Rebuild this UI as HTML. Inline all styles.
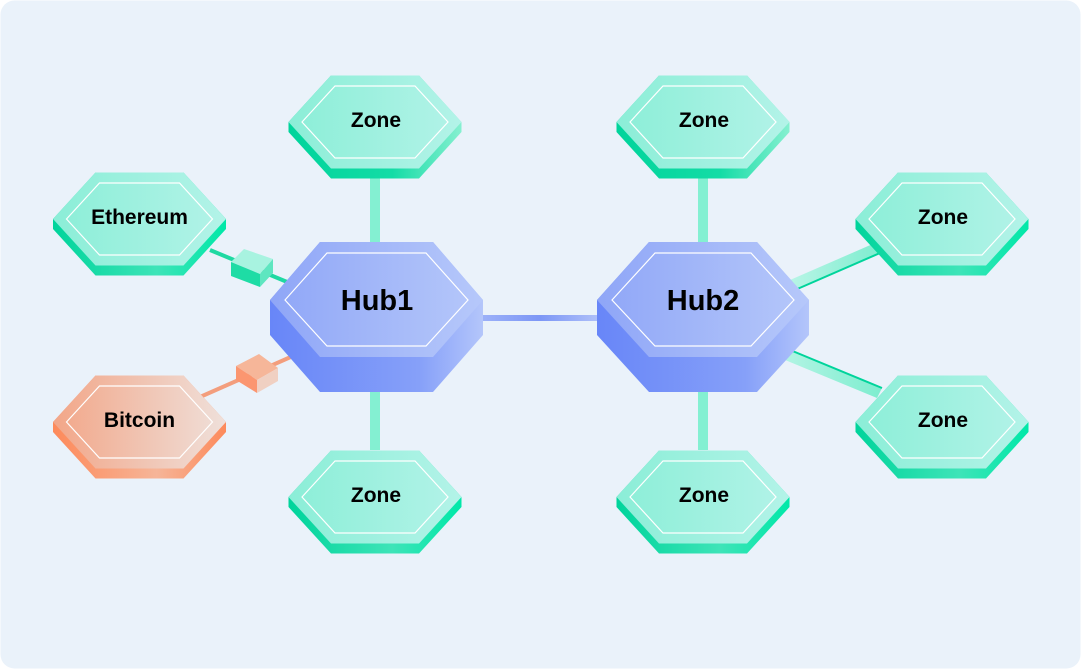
<!DOCTYPE html>
<html><head><meta charset="utf-8"><style>
html,body{margin:0;padding:0;background:#fff;}
svg{display:block;}
text{font-family:"Liberation Sans",sans-serif;font-weight:bold;fill:#000;text-anchor:middle;}
</style></head><body>
<svg width="1081" height="669" viewBox="0 0 1081 669" xmlns="http://www.w3.org/2000/svg">
<defs>
<linearGradient id="zt" x1="0" x2="1"><stop offset="0" stop-color="#8beed7"/><stop offset="1" stop-color="#b3f3e8"/></linearGradient>
<linearGradient id="zs" x1="0" x2="1"><stop offset="0" stop-color="#00d49b"/><stop offset="0.6" stop-color="#14dca6"/><stop offset="1" stop-color="#86f0d0"/></linearGradient>
<linearGradient id="zs2" x1="0" x2="1"><stop offset="0" stop-color="#00d49b"/><stop offset="0.6" stop-color="#3ee4b8"/><stop offset="1" stop-color="#00e8a8"/></linearGradient>
<linearGradient id="ht" x1="0" x2="1"><stop offset="0" stop-color="#8fa6f7"/><stop offset="1" stop-color="#b6c8fa"/></linearGradient>
<linearGradient id="hs" x1="0" x2="1"><stop offset="0" stop-color="#6886f8"/><stop offset="0.7" stop-color="#86a0f9"/><stop offset="1" stop-color="#b4c6fa"/></linearGradient>
<linearGradient id="bt" x1="0" x2="1"><stop offset="0" stop-color="#f2a688"/><stop offset="1" stop-color="#efe0da"/></linearGradient>
<linearGradient id="bs" x1="0" x2="1"><stop offset="0" stop-color="#fd8a5b"/><stop offset="0.6" stop-color="#f6b598"/><stop offset="1" stop-color="#fd8a5b"/></linearGradient>
<linearGradient id="hl" x1="0" x2="1"><stop offset="0" stop-color="#9db2f8"/><stop offset="0.5" stop-color="#7d97f6"/><stop offset="1" stop-color="#b0c1f9"/></linearGradient>
<linearGradient id="gl" x1="0" x2="1"><stop offset="0" stop-color="#b8f5e6"/><stop offset="1" stop-color="#7eedcf"/></linearGradient>
</defs>
<rect x="0.5" y="0.5" width="1080" height="668" rx="14" fill="#eaf2fa"/>

<rect x="370" y="175" width="10" height="70" fill="#84f0d2"/>
<rect x="370" y="375" width="10" height="75" fill="#84f0d2"/>
<rect x="698" y="175" width="10" height="70" fill="#84f0d2"/>
<rect x="698" y="375" width="10" height="75" fill="#84f0d2"/>
<rect x="480" y="315" width="120" height="6" fill="url(#hl)"/>
<line x1="210" y1="250" x2="292" y2="284" stroke="#1fd9a2" stroke-width="4"/>
<line x1="200" y1="397" x2="302" y2="352" stroke="#f59068" stroke-width="4" opacity="0.85"/>
<polygon points="790,280 875,243 880,253 795,290" fill="url(#gl)"/>
<line x1="795" y1="290" x2="880" y2="253" stroke="#00d49b" stroke-width="2"/>
<polygon points="778,345 882,388 877,398 773,355" fill="url(#gl)"/>
<line x1="778" y1="345" x2="882" y2="388" stroke="#00d49b" stroke-width="2"/>

<polygon points="231,262 244,249 273,259 260,274" fill="#a8f3e0"/>
<polygon points="231,262 260,274 260,287 231,276" fill="#1edca5"/>
<polygon points="260,274 273,259 273,273 260,287" fill="#5ee6c0"/>
<polygon points="236,366 259,354 278,368 257,380" fill="#f6b699"/>
<polygon points="236,366 257,380 257,393 236,380" fill="#fb9670"/>
<polygon points="257,380 278,368 278,381 257,393" fill="#f0d0c2"/>

<polygon points="288.5,122 331,75.5 419,75.5 461.5,122 461.5,132 419,178.5 331,178.5 288.5,132" fill="url(#zs)"/>
<polygon points="288.5,122 331,75.5 419,75.5 461.5,122 419,168.5 331,168.5" fill="url(#zt)"/>
<polygon points="302,122 335,86 415,86 448,122 415,158 335,158" fill="none" stroke="#fff" stroke-width="1.2"/>
<text x="376" y="127" font-size="21">Zone</text>

<polygon points="616.5,122 659,75.5 747,75.5 789.5,122 789.5,132 747,178.5 659,178.5 616.5,132" fill="url(#zs)"/>
<polygon points="616.5,122 659,75.5 747,75.5 789.5,122 747,168.5 659,168.5" fill="url(#zt)"/>
<polygon points="630,122 663,86 743,86 776,122 743,158 663,158" fill="none" stroke="#fff" stroke-width="1.2"/>
<text x="704" y="127" font-size="21">Zone</text>

<polygon points="288.5,497 331,450.5 419,450.5 461.5,497 461.5,507 419,553.5 331,553.5 288.5,507" fill="url(#zs2)"/>
<polygon points="288.5,497 331,450.5 419,450.5 461.5,497 419,543.5 331,543.5" fill="url(#zt)"/>
<polygon points="302,497 335,461 415,461 448,497 415,533 335,533" fill="none" stroke="#fff" stroke-width="1.2"/>
<text x="376" y="502" font-size="21">Zone</text>

<polygon points="616.5,497 659,450.5 747,450.5 789.5,497 789.5,507 747,553.5 659,553.5 616.5,507" fill="url(#zs2)"/>
<polygon points="616.5,497 659,450.5 747,450.5 789.5,497 747,543.5 659,543.5" fill="url(#zt)"/>
<polygon points="630,497 663,461 743,461 776,497 743,533 663,533" fill="none" stroke="#fff" stroke-width="1.2"/>
<text x="704" y="502" font-size="21">Zone</text>

<polygon points="53,219 95.5,172.5 183.5,172.5 226,219 226,229 183.5,275.5 95.5,275.5 53,229" fill="url(#zs2)"/>
<polygon points="53,219 95.5,172.5 183.5,172.5 226,219 183.5,265.5 95.5,265.5" fill="url(#zt)"/>
<polygon points="66.5,219 99.5,183 179.5,183 212.5,219 179.5,255 99.5,255" fill="none" stroke="#fff" stroke-width="1.2"/>
<text x="139.5" y="224" font-size="21">Ethereum</text>

<polygon points="53,422 95.5,375.5 183.5,375.5 226,422 226,432 183.5,478.5 95.5,478.5 53,432" fill="url(#bs)"/>
<polygon points="53,422 95.5,375.5 183.5,375.5 226,422 183.5,468.5 95.5,468.5" fill="url(#bt)"/>
<polygon points="66.5,422 99.5,386 179.5,386 212.5,422 179.5,458 99.5,458" fill="none" stroke="#fff" stroke-width="1.2"/>
<text x="139.5" y="427" font-size="21">Bitcoin</text>

<polygon points="855.5,219 898,172.5 986,172.5 1028.5,219 1028.5,229 986,275.5 898,275.5 855.5,229" fill="url(#zs2)"/>
<polygon points="855.5,219 898,172.5 986,172.5 1028.5,219 986,265.5 898,265.5" fill="url(#zt)"/>
<polygon points="869,219 902,183 982,183 1015,219 982,255 902,255" fill="none" stroke="#fff" stroke-width="1.2"/>
<text x="943" y="224" font-size="21">Zone</text>

<polygon points="855.5,422 898,375.5 986,375.5 1028.5,422 1028.5,432 986,478.5 898,478.5 855.5,432" fill="url(#zs2)"/>
<polygon points="855.5,422 898,375.5 986,375.5 1028.5,422 986,468.5 898,468.5" fill="url(#zt)"/>
<polygon points="869,422 902,386 982,386 1015,422 982,458 902,458" fill="none" stroke="#fff" stroke-width="1.2"/>
<text x="943" y="427" font-size="21">Zone</text>

<polygon points="270,300 320,242 433,242 483,300 483,335 433,392 320,392 270,335" fill="url(#hs)"/>
<polygon points="270,300 320,242 433,242 483,300 433,357 320,357" fill="url(#ht)"/>
<polygon points="285,300 327,253 426,253 468,300 426,346 327,346" fill="none" stroke="#fff" stroke-width="1.2"/>
<text x="377" y="310" font-size="29">Hub1</text>

<polygon points="597,300 649,242 757,242 809,300 809,335 757,392 649,392 597,335" fill="url(#hs)"/>
<polygon points="597,300 649,242 757,242 809,300 757,357 649,357" fill="url(#ht)"/>
<polygon points="612,300 655,253 751,253 794,300 751,346 655,346" fill="none" stroke="#fff" stroke-width="1.2"/>
<text x="703" y="310" font-size="29">Hub2</text>
</svg>
</body></html>
